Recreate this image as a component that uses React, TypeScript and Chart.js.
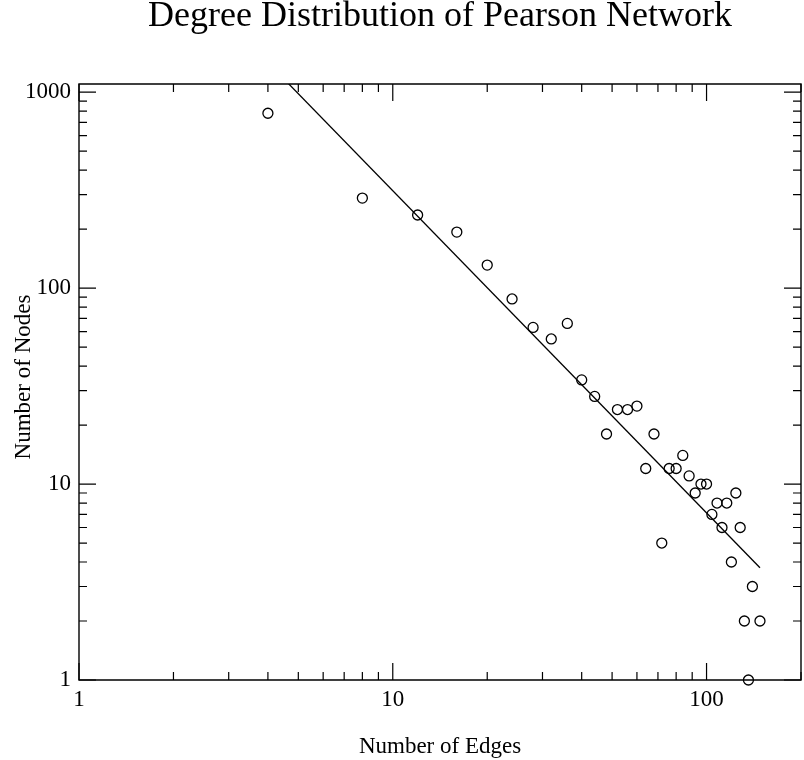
import React, { useEffect, useRef } from "react";
import { Chart, registerables } from "chart.js";

Chart.register(...registerables);

const edges = [4, 8, 12, 16, 20, 24, 28, 32, 36, 40, 44, 48, 52, 56, 60, 64, 68, 72, 76, 80, 84, 88, 92, 96, 100, 104, 108, 112, 116, 120, 124, 128, 132, 136, 140, 148];
const nodes = [780, 288, 236, 193, 131, 88, 63, 55, 66, 34, 28, 18, 24, 24, 25, 12, 18, 5, 12, 12, 14, 11, 9, 10, 10, 7, 8, 6, 8, 4, 9, 6, 2, 1, 3, 2];

const fitX = [4, 148];
const fitY = [1416, 3.74];

const xTicks = [1, 10, 100];
const yTicks = [1, 10, 100, 1000];

const title = "Degree Distribution of Pearson Network";
const xTitle = "Number of Edges";
const yTitle = "Number of Nodes";

const FONT = "'Liberation Serif', 'Times New Roman', 'DejaVu Serif', serif";

const framePlugin = {
  id: "frame",
  afterDraw(chart: any) {
    const { ctx, chartArea } = chart;
    const { left, right, top, bottom } = chartArea;
    const xs = chart.scales.x;
    const ys = chart.scales.y;
    ctx.save();
    ctx.strokeStyle = "#000";
    ctx.lineWidth = 1.4;
    ctx.beginPath();
    ctx.rect(left, top, right - left, bottom - top);
    ctx.stroke();
    ctx.lineWidth = 1.2;
    const major = 17;
    const minor = 8;
    ctx.beginPath();
    for (let k = 0; k < 4; k++) {
      for (let m = 1; m <= 9; m++) {
        const v = m * Math.pow(10, k);
        const len = m === 1 ? major : minor;
        if (v >= xs.min && v <= xs.max) {
          const px = xs.getPixelForValue(v);
          ctx.moveTo(px, bottom);
          ctx.lineTo(px, bottom - len);
          ctx.moveTo(px, top);
          ctx.lineTo(px, top + len);
        }
        if (v >= ys.min && v <= ys.max) {
          const py = ys.getPixelForValue(v);
          ctx.moveTo(left, py);
          ctx.lineTo(left + len, py);
          ctx.moveTo(right, py);
          ctx.lineTo(right - len, py);
        }
      }
    }
    ctx.stroke();

    ctx.fillStyle = "#000";
    ctx.textAlign = "center";
    ctx.textBaseline = "alphabetic";
    const cx = (left + right) / 2;
    ctx.font = `36px ${FONT}`;
    ctx.fillText(title, cx, top - 58);
    ctx.font = `23px ${FONT}`;
    ctx.fillText(xTitle, cx, bottom + 73);
    ctx.save();
    ctx.translate(30, (top + bottom) / 2 - 5);
    ctx.rotate(-Math.PI / 2);
    ctx.fillText(yTitle, 0, 0);
    ctx.restore();
    ctx.restore();
  },
};

export default function App() {
  const ref = useRef<HTMLCanvasElement | null>(null);
  useEffect(() => {
    document.body.style.margin = "0";
    const canvas = ref.current;
    if (!canvas) return;
    const chart = new Chart(canvas, {
      type: "scatter",
      data: {
        datasets: [
          {
            label: "data",
            data: edges.map((x, i) => ({ x, y: nodes[i] })),
            pointStyle: "circle",
            pointRadius: 5,
            pointBorderWidth: 1.3,
            borderColor: "#000",
            pointBorderColor: "#000",
            backgroundColor: "rgba(0,0,0,0)",
            pointBackgroundColor: "rgba(0,0,0,0)",
            clip: false,
          } as any,
          {
            label: "fit",
            data: fitX.map((x, i) => ({ x, y: fitY[i] })),
            showLine: true,
            pointRadius: 0,
            borderColor: "#000",
            borderWidth: 1.3,
            clip: { left: 0, top: 0, right: 0, bottom: 0 },
          } as any,
        ],
      },
      options: {
        responsive: false,
        animation: false,
        events: [],
        layout: { autoPadding: false, padding: { top: 84, right: 3, left: 0, bottom: 0 } },
        plugins: {
          legend: { display: false },
          title: { display: false },
          tooltip: { enabled: false },
        },
        scales: {
          x: {
            type: "logarithmic",
            min: 1,
            max: 200,
            grid: { display: false, drawTicks: false },
            border: { display: false },
            afterBuildTicks: (s: any) => {
              s.ticks = xTicks.map((v) => ({ value: v }));
            },
            afterFit: (s: any) => {
              s.height = 80;
              s.paddingLeft = 0;
              s.paddingRight = 0;
            },
            ticks: {
              autoSkip: false,
              maxRotation: 0,
              padding: 6,
              color: "#000",
              font: { family: FONT, size: 23 },
              callback: (v: any) => String(v),
            },
          },
          y: {
            type: "logarithmic",
            min: 1,
            max: 1100,
            grid: { display: false, drawTicks: false },
            border: { display: false },
            afterBuildTicks: (s: any) => {
              s.ticks = yTicks.map((v) => ({ value: v }));
            },
            afterFit: (s: any) => {
              s.width = 79;
              s.paddingTop = 0;
              s.paddingBottom = 0;
            },
            ticks: {
              autoSkip: false,
              padding: 8,
              color: "#000",
              font: { family: FONT, size: 23 },
              callback: (v: any) => String(v),
            },
          },
        },
      },
      plugins: [framePlugin],
    } as any);
    return () => chart.destroy();
  }, []);
  return (
    <div style={{ width: 804, height: 760, background: "#fff" }}>
      <canvas ref={ref} width={804} height={760} style={{ display: "block" }} />
    </div>
  );
}
